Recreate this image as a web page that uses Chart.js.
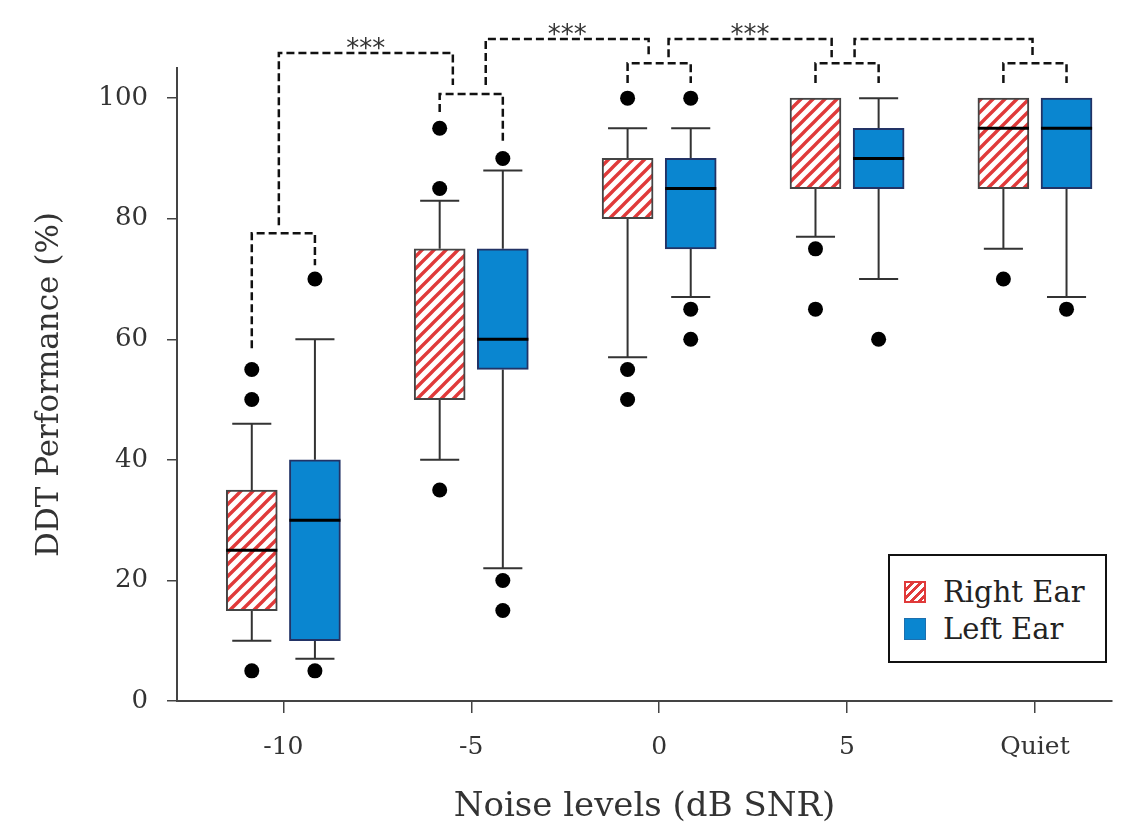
<!doctype html>
<html lang="en">
  <head>
    <meta charset="UTF-8" />
    <title>DDT Performance by Noise Level</title>
    <script src="https://cdn.jsdelivr.net/npm/chart.js"></script>
    <style>
      body { margin: 0; background: #fff; }
      .wrap { position: relative; width: 1124px; height: 831px; }
      .legend {
        position: absolute; left: 888px; top: 554px; width: 219px; height: 109px;
        box-sizing: border-box; border: 2.5px solid #111; background: #fff;
        font-family: "DejaVu Serif", serif; font-size: 29px; color: #222;
      }
      .legend .item { position: absolute; left: 14px; height: 36px; display: flex; align-items: center; }
      .legend .sw { width: 22px; height: 22px; box-sizing: border-box; margin-right: 17px; }
      .legend .sw.right {
        border: 2px solid #e03a3a;
        background: repeating-linear-gradient(135deg, #fff 0 3px, #e03a3a 3px 6px);
      }
      .legend .sw.left { border: 1.5px solid #1d6fae; background: #0a86d0; }
    </style>
  </head>
  <body>
    <div class="wrap">
      <canvas id="ddt"></canvas>
      <div class="legend">
        <div class="item" style="top: 18px"><span class="sw right"></span>Right Ear</div>
        <div class="item" style="top: 55px"><span class="sw left"></span>Left Ear</div>
      </div>
    </div>

    <script>
      // noise levels
      const groups = ["-10", "-5", "0", "5", "Quiet"];
      const yTicks = [0, 20, 40, 60, 80, 100];

      // right ear box plots
      const rightQ1 = [15, 50, 80, 85, 85];
      const rightQ3 = [35, 75, 90, 100, 100];
      const rightMedian = [25, null, null, null, 95];
      const rightLow = [10, 40, 57, 77, 75];
      const rightHigh = [46, 83, 95, 100, 100];
      const rightOutliers = [[5, 50, 55], [35, 85, 95], [50, 55, 100], [65, 75], [70]];

      // left ear box plots
      const leftQ1 = [10, 55, 75, 85, 85];
      const leftQ3 = [40, 75, 90, 95, 100];
      const leftMedian = [30, 60, 85, 90, 95];
      const leftLow = [7, 22, 67, 70, 67];
      const leftHigh = [60, 88, 95, 100, 100];
      const leftOutliers = [[5, 70], [15, 20, 90], [60, 65, 100], [60], [65]];

      // significance brackets (y in % units)
      const pairLevel = [77.6, 100.7, 105.8, 105.8, 105.8];
      const pairRightFoot = [58.5, 97.7, 102.5, 102.5, 102.5];
      const pairLeftFoot = [72.3, 92.5, 102.5, 102.5, 102.5];
      const crossLevel = [107.5, 109.8, 109.8, 109.8];
      const crossFoot = [78.9, 102.2, 106.8, 106.8, 106.8];
      const crossStars = ["***", "***", "***", ""];

      // layout of the marks, in x-axis units (one group = 1)
      const RIGHT_OFF = -0.168;
      const LEFT_OFF = 0.168;
      const BOX_HALF = 0.136;
      const CAP_HALF = 0.104;
      const crossStartOff = [-0.024, 0.077, 0.05, 0.04];
      const crossEndOff = [-0.098, -0.056, -0.082, -0.013];

      function makeHatch() {
        const s = 12;
        const c = document.createElement("canvas");
        c.width = s;
        c.height = s;
        const g = c.getContext("2d");
        g.fillStyle = "#fff";
        g.fillRect(0, 0, s, s);
        g.strokeStyle = "#e03a3a";
        g.lineWidth = 3.4;
        g.beginPath();
        g.moveTo(0, s); g.lineTo(s, 0);
        g.moveTo(-s / 2, s / 2); g.lineTo(s / 2, -s / 2);
        g.moveTo(s / 2, s * 1.5); g.lineTo(s * 1.5, s / 2);
        g.stroke();
        return g.createPattern(c, "repeat");
      }

      const gap = (x) => ({ x: x, y: null });

      function boxData(q1, q3, off) {
        return groups.map((g, i) => ({ x: i + off, y: [q1[i], q3[i]] }));
      }

      function whiskerData(lo, hi, q1, q3, off) {
        const pts = [];
        groups.forEach((g, i) => {
          const x = i + off;
          if (lo[i] < q1[i]) {
            pts.push({ x, y: lo[i] }, { x, y: q1[i] }, gap(x));
            pts.push({ x: x - CAP_HALF, y: lo[i] }, { x: x + CAP_HALF, y: lo[i] }, gap(x));
          }
          if (hi[i] > q3[i]) {
            pts.push({ x, y: q3[i] }, { x, y: hi[i] }, gap(x));
            pts.push({ x: x - CAP_HALF, y: hi[i] }, { x: x + CAP_HALF, y: hi[i] }, gap(x));
          }
        });
        return pts;
      }

      function medianData(med, off) {
        const pts = [];
        groups.forEach((g, i) => {
          if (med[i] == null) return;
          const x = i + off;
          pts.push({ x: x - BOX_HALF, y: med[i] }, { x: x + BOX_HALF, y: med[i] }, gap(x));
        });
        return pts;
      }

      function outlierData(out, off) {
        const pts = [];
        out.forEach((vals, i) => vals.forEach((v) => pts.push({ x: i + off, y: v })));
        return pts;
      }

      function bracketData() {
        const pts = [];
        groups.forEach((g, i) => {
          const xr = i + RIGHT_OFF;
          const xl = i + LEFT_OFF;
          pts.push({ x: xr, y: pairRightFoot[i] }, { x: xr, y: pairLevel[i] },
                   { x: xl, y: pairLevel[i] }, { x: xl, y: pairLeftFoot[i] }, gap(xl));
        });
        crossLevel.forEach((lvl, i) => {
          const xa = i + crossStartOff[i];
          const xb = i + 1 + crossEndOff[i];
          pts.push({ x: xa, y: crossFoot[i] }, { x: xa, y: lvl },
                   { x: xb, y: lvl }, { x: xb, y: crossFoot[i + 1] }, gap(xb));
        });
        return pts;
      }

      const starPlugin = {
        id: "stars",
        afterDatasetsDraw(chart) {
          const { ctx, scales } = chart;
          ctx.save();
          ctx.font = '26px "DejaVu Sans"';
          ctx.fillStyle = "#333";
          ctx.textAlign = "center";
          ctx.textBaseline = "middle";
          crossStars.forEach((s, i) => {
            if (!s) return;
            const mid = (i + crossStartOff[i] + i + 1 + crossEndOff[i]) / 2;
            ctx.fillText(s, scales.x.getPixelForValue(mid), scales.y.getPixelForValue(crossLevel[i]) - 3);
          });
          ctx.restore();
        },
      };

      const lineStyle = {
        type: "line",
        pointRadius: 0,
        fill: false,
        tension: 0,
        spanGaps: false,
        borderCapStyle: "butt",
      };

      const serif = "DejaVu Serif";

      new Chart(document.getElementById("ddt"), {
        type: "bar",
        data: {
          datasets: [
            { ...lineStyle, label: "whiskers R", data: whiskerData(rightLow, rightHigh, rightQ1, rightQ3, RIGHT_OFF),
              borderColor: "#333", borderWidth: 2, order: 5 },
            { ...lineStyle, label: "whiskers L", data: whiskerData(leftLow, leftHigh, leftQ1, leftQ3, LEFT_OFF),
              borderColor: "#333", borderWidth: 2, order: 5 },
            { label: "Right Ear", data: boxData(rightQ1, rightQ3, RIGHT_OFF), backgroundColor: makeHatch(),
              borderColor: "#444", borderWidth: 2, borderSkipped: false, grouped: false, barThickness: 51, order: 4 },
            { label: "Left Ear", data: boxData(leftQ1, leftQ3, LEFT_OFF), backgroundColor: "#0a86d0",
              borderColor: "#223366", borderWidth: 2, borderSkipped: false, grouped: false, barThickness: 51, order: 4 },
            { ...lineStyle, label: "median R", data: medianData(rightMedian, RIGHT_OFF), borderColor: "#000", borderWidth: 3, order: 3 },
            { ...lineStyle, label: "median L", data: medianData(leftMedian, LEFT_OFF), borderColor: "#000", borderWidth: 3, order: 3 },
            { type: "line", label: "outliers", showLine: false,
              data: outlierData(rightOutliers, RIGHT_OFF).concat(outlierData(leftOutliers, LEFT_OFF)),
              pointRadius: 7.5, pointBackgroundColor: "#000", pointBorderWidth: 0, order: 2 },
            { ...lineStyle, label: "brackets", data: bracketData(), borderColor: "#111", borderWidth: 2.5,
              borderDash: [8, 4], clip: false, order: 1 },
          ],
        },
        options: {
          responsive: true,
          maintainAspectRatio: false,
          animation: false,
          layout: { padding: { top: 68, right: 12, left: 0, bottom: 0 } },
          plugins: { legend: { display: false }, tooltip: { enabled: false } },
          events: [],
          scales: {
            x: {
              type: "linear",
              offset: false,
              min: -0.566,
              max: 4.41,
              afterBuildTicks: (s) => { s.ticks = groups.map((g, i) => ({ value: i })); },
              afterFit: (s) => { s.height = 130; },
              ticks: { callback: (v, i) => groups[i], font: { family: serif, size: 25 }, color: "#333", padding: 19, maxRotation: 0 },
              grid: { display: true, offset: false, drawOnChartArea: false, drawTicks: true, tickLength: 12, color: "#444", lineWidth: 1.5 },
              border: { display: true, color: "#444", width: 2 },
              title: { display: true, text: "Noise levels (dB SNR)", font: { family: serif, size: 34 }, color: "#333",
                       padding: { top: 0, bottom: 3 } },
            },
            y: {
              min: 0,
              max: 105,
              afterBuildTicks: (s) => { s.ticks = yTicks.map((v) => ({ value: v })); },
              afterFit: (s) => { s.width = 177; },
              ticks: { font: { family: serif, size: 26 }, color: "#333", padding: 19 },
              grid: { display: true, drawOnChartArea: false, drawTicks: true, tickLength: 10, color: "#444", lineWidth: 1.5 },
              border: { display: true, color: "#444", width: 2 },
              title: { display: true, text: "DDT Performance (%)", font: { family: serif, size: 31 }, color: "#333",
                       padding: { top: 31, bottom: 0 } },
            },
          },
        },
        plugins: [starPlugin],
      });
    </script>
  </body>
</html>
